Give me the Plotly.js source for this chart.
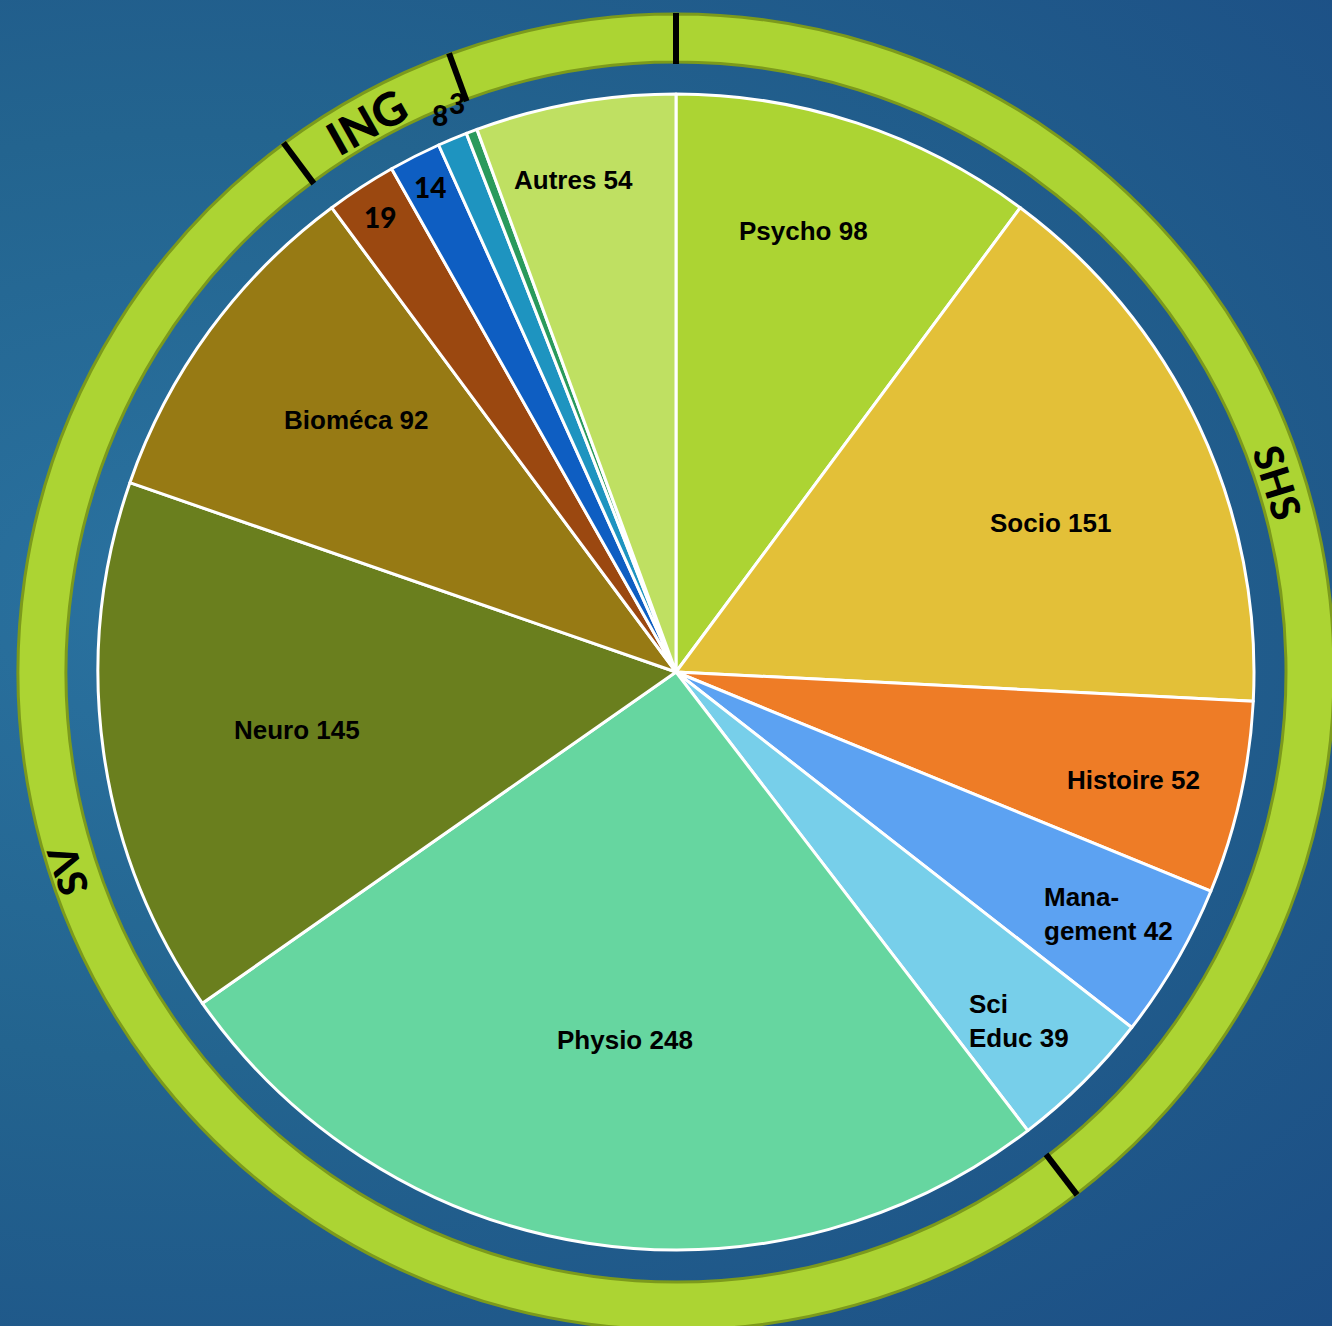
<!DOCTYPE html>
<html><head><meta charset="utf-8">
<script src="https://cdn.plot.ly/plotly-3.0.1.min.js"></script>
<style>
html,body{margin:0;padding:0;width:1332px;height:1326px;overflow:hidden;
background: radial-gradient(ellipse at 15% 45%, #2a72a0 0%, #23648f 45%, #1c4e85 100%);}
#chart{position:absolute;left:-24px;top:-28px;width:1400px;height:1400px;}
</style></head><body><div id="chart"></div>
<script>
// ---- data ----
const categories = ['Psycho','Socio','Histoire','Management','Sci Educ','Physio','Neuro','Bioméca','ING 1','ING 2','ING 3','ING 4','Autres'];
const values = [98, 151, 52, 42, 39, 248, 145, 92, 19, 14, 8, 3, 54];
const displayNames = ['Psycho','Socio','Histoire','Mana-<br>gement','Sci<br>Educ','Physio','Neuro','Bioméca','','','','','Autres'];
const groupOf = ['SHS','SHS','SHS','SHS','SHS','SV','SV','SV','ING','ING','ING','ING','Autres'];
const groups = ['SHS','SV','ING','Autres'];
const groupLabels = ['SHS','SV','ING',''];

// ---- styles ----
const sliceColors = ['#acd433','#e3c038','#ee7c26','#5ca2f2','#77cfea','#66d6a0','#6a7f1e','#977a14','#9b4810','#0e5ec2','#1e94c0','#2a9a5c','#bfe062'];
const ringColor = '#acd433', ringEdge = '#7c9a1c';
const labelRadius = [459, 403, 470, 496, 489, 371, 383, 407, 543, 544, 605, 610, 503];
const labelShift  = [-2.2, 3.6, 0.7, -0.9, 0.3, -0.9, -0.8, 1.9, 0, 0, -0.2, -0.3, -1.7];
const labelAlign  = ['center','center','center','left','left','center','center','center','center','center','center','center','center'];
const groupLabelRadius = [631, 640, 632, 0];
const groupLabelShift = [1.3, 19, -1.0, 0];

const S = 1400, C = 700, R = 578, RO = 658, RI = 610;

const total = values.reduce((a,b)=>a+b,0);
const groupValues = groups.map(g => values.reduce((s,v,i)=> s + (groupOf[i]===g ? v : 0), 0));

function pt(r, deg){ const a = deg*Math.PI/180; return {x:(C + r*Math.sin(a))/S, y:(C + r*Math.cos(a))/S}; }

const traces = [
  { type:'pie', values: groupValues, labels: groups, sort:false, direction:'clockwise', rotation:0,
    hole: RI/RO, textinfo:'none', hoverinfo:'skip', showlegend:false,
    domain:{x:[(C-RO)/S,(C+RO)/S], y:[(C-RO)/S,(C+RO)/S]},
    marker:{colors: groups.map(()=>ringColor), line:{color:ringEdge, width:3}} },
  { type:'pie', values: values, labels: categories, sort:false, direction:'clockwise', rotation:0,
    textinfo:'none', hoverinfo:'label+value', showlegend:false,
    domain:{x:[(C-R)/S,(C+R)/S], y:[(C-R)/S,(C+R)/S]},
    marker:{colors: sliceColors, line:{color:'#ffffff', width:3}} }
];

const annotations = [];
let cum = 0;
values.forEach((v,i)=>{
  const mid = (cum + v/2)/total*360 + labelShift[i];
  cum += v;
  const p = pt(labelRadius[i], mid);
  const named = displayNames[i] !== '';
  annotations.push({ xref:'paper', yref:'paper', x:p.x, y:p.y, xanchor:'center', yanchor:'middle',
    showarrow:false, align: labelAlign[i],
    text: named ? displayNames[i] + ' ' + v : String(v),
    font: named ? {family:'"Liberation Sans",Arial,sans-serif', size:26, color:'#000', weight:700}
                : {family:'Lato, "DejaVu Sans", sans-serif', size:28, color:'#000', weight:900} });
});

const shapes = [];
let gc = 0;
groupValues.forEach((gv,i)=>{
  const start = gc/total*360;
  const a = pt(RI-2, start), b = pt(RO+1, start);
  shapes.push({type:'line', xref:'paper', yref:'paper', x0:a.x, y0:a.y, x1:b.x, y1:b.y, line:{color:'#000', width:6}});
  const mid = (gc + gv/2)/total*360 + groupLabelShift[i];
  gc += gv;
  if (groupLabels[i]) {
    const p = pt(groupLabelRadius[i], mid);
    let ang = mid; if (ang > 180) ang -= 360;
    annotations.push({ xref:'paper', yref:'paper', x:p.x, y:p.y, xanchor:'center', yanchor:'middle',
      showarrow:false, text: groupLabels[i], textangle: ang,
      font:{family:'Lato, "DejaVu Sans", sans-serif', size: groupLabels[i]==='ING' ? 46 : 40, color:'#000', weight:900} });
  }
});

const layout = { width:S, height:S, margin:{l:0,r:0,t:0,b:0}, paper_bgcolor:'rgba(0,0,0,0)', plot_bgcolor:'rgba(0,0,0,0)',
  showlegend:false, annotations, shapes };
Plotly.newPlot('chart', traces, layout, {displayModeBar:false, staticPlot:true});
</script></body></html>
